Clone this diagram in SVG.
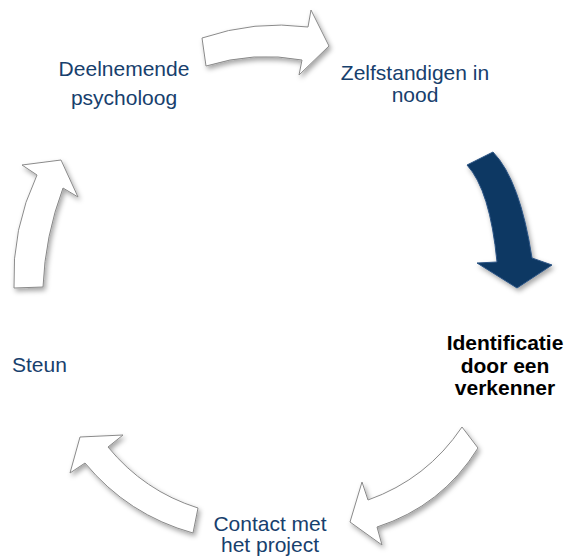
<svg xmlns="http://www.w3.org/2000/svg" width="566" height="556" viewBox="0 0 566 556">
<defs>
<filter id="sh" x="-30%" y="-30%" width="160%" height="160%">
<feDropShadow dx="2" dy="3" stdDeviation="2.5" flood-color="#000" flood-opacity="0.35"/>
</filter>
<style>
.arw{fill:#ffffff;stroke:#8a8a8a;stroke-width:1;stroke-linejoin:miter;filter:url(#sh)}
.dark{fill:#0e3763;stroke:#2c5585;stroke-width:1;filter:url(#sh)}
.lbl{font-family:"Liberation Sans",Arial,sans-serif;font-size:21px;fill:#17406d;text-anchor:middle}
.bold{font-family:"Liberation Sans",Arial,sans-serif;font-size:21px;font-weight:bold;fill:#000;text-anchor:middle}
</style>
</defs>
<rect width="566" height="556" fill="#ffffff"/>
<g id="connectors">
<path id="arrow-top" class="arw" d="M202,38 Q255,20 308,27 L311,10 L329,46 L299,75 L302,60 Q254,51 206,66 Z"/>
<path id="arrow-right" class="dark" d="M467,165 L493,152 Q520,180 532,258 L552,265 L517,288 L477,263 L497,262 Q490,190 467,165 Z"/>
<path id="arrow-bottom-right" class="arw" d="M462,427 L478,448 Q442,506 377,527 L382,545 L350,522 L362,482 L368,500 Q427,479 462,427 Z"/>
<path id="arrow-bottom-left" class="arw" d="M198,508 L193,533 Q128,515 85,463 L70,473 L80,437 L123,435 L108,447 Q144,491 198,508 Z"/>
<path id="arrow-left" class="arw" d="M14,288 L43,287 Q45,236 63,188 L78,197 L61,160 L22,165 L37,175 Q11.5,229 14,288 Z"/>
</g>
<g id="node-psycholoog">
<text class="lbl" x="124" y="75.5">Deelnemende</text>
<text class="lbl" x="124" y="105">psycholoog</text>
</g>
<g id="node-zelfstandigen">
<text class="lbl" x="415" y="80">Zelfstandigen in</text>
<text class="lbl" x="415" y="102">nood</text>
</g>
<g id="node-identificatie">
<text class="bold" x="505" y="350">Identificatie</text>
<text class="bold" x="505" y="372.5">door een</text>
<text class="bold" x="505" y="395">verkenner</text>
</g>
<g id="node-contact">
<text class="lbl" x="270" y="531">Contact met</text>
<text class="lbl" x="270" y="552">het project</text>
</g>
<g id="node-steun">
<text class="lbl" x="12" y="371.5" style="text-anchor:start">Steun</text>
</g>
</svg>
